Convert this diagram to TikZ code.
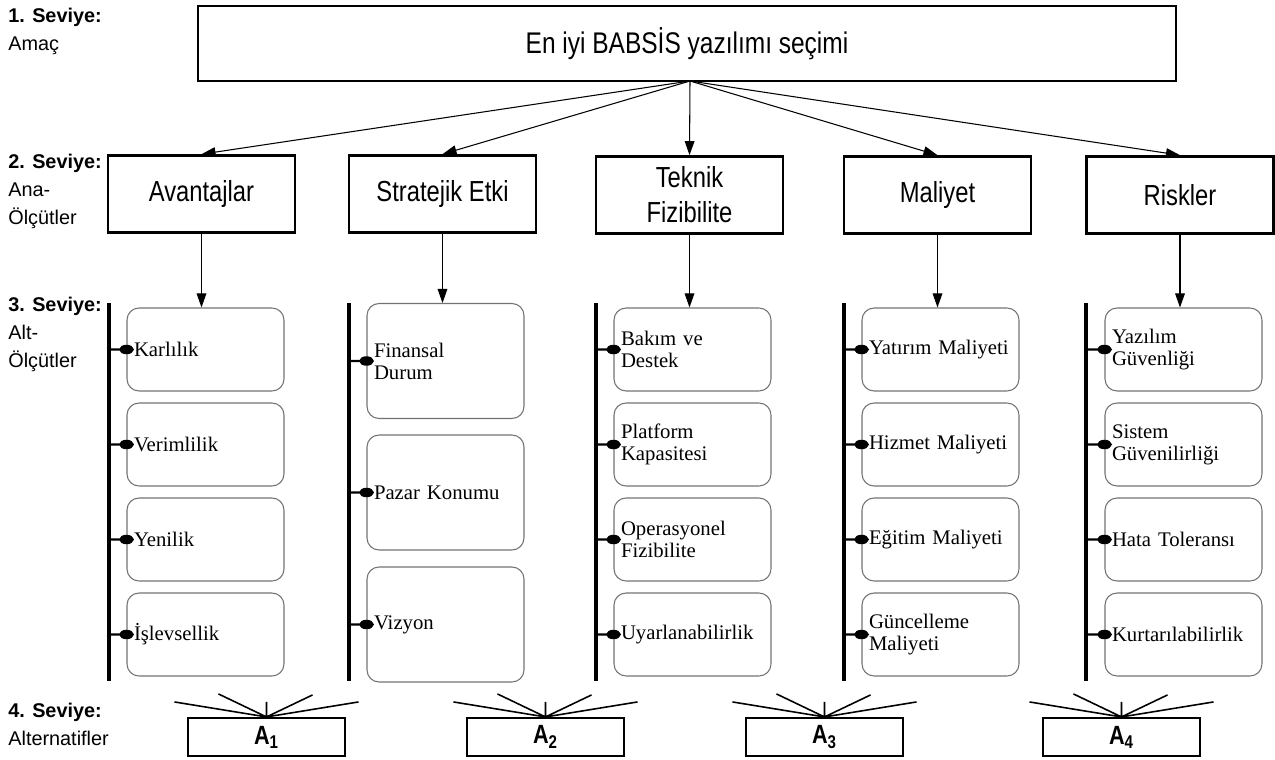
\documentclass[tikz,border=0pt]{standalone}
\usepackage{fontspec}
\setmainfont{Liberation Sans}
\newfontfamily\narrowsans[FakeStretch=0.82]{Liberation Sans}
\newfontfamily\seriffont{Liberation Serif}
\usetikzlibrary{arrows.meta}

\tikzset{
  goalbox/.style={draw, line width=1.1pt, minimum width=19.56cm, minimum height=1.5cm,
    font=\narrowsans\fontsize{17}{20}\selectfont},
  mainbox/.style={draw, line width=1.5pt, minimum width=3.74cm, minimum height=1.54cm,
    inner sep=2pt, align=center, font=\narrowsans\fontsize{16.5}{20}\selectfont},
  subbox/.style={draw=black!55, line width=0.6pt, rounded corners=0.24cm, text width=2.86cm,
    inner xsep=0.14cm, minimum height=1.66cm, align=left,
    font=\seriffont\fontsize{11.8}{12.6}\selectfont},
  tallbox/.style={subbox, minimum height=2.3cm},
  altbox/.style={draw, line width=1.2pt, minimum width=3.14cm, minimum height=0.76cm,
    inner sep=0pt, font=\narrowsans\bfseries\fontsize{15}{16}\selectfont},
  lvl/.style={anchor=north west, align=left, inner sep=0pt, font=\fontsize{11.3}{15.9}\selectfont},
  pfeil/.style={line width=0.6pt, -{Triangle[length=8pt,width=5.5pt]}},
  bar/.style={line width=2.3pt},
  stub/.style={line width=1.4pt},
  fan/.style={line width=0.9pt}
}

\begin{document}
\begin{tikzpicture}[x=0.02cm,y=-0.02cm]
\useasboundingbox (0,0) rectangle (1275,760);

\node[lvl] (l1) at (8,8) {\textbf{1. Seviye:}\\Amaç};
\node[lvl] (l2) at (8,154) {\textbf{2. Seviye:}\\Ana-\\Ölçütler};
\node[lvl] (l3) at (8,297) {\textbf{3. Seviye:}\\Alt-\\Ölçütler};
\node[lvl] (l4) at (8,703) {\textbf{4. Seviye:}\\Alternatifler};

\node[goalbox] (goal) at (687,43.5) {En iyi BABSİS yazılımı seçimi};
\coordinate (g) at (690,81);

\node[mainbox] (k1) at (201.5,194) {Avantajlar};
\node[mainbox] (k2) at (442.5,194) {Stratejik Etki};
\node[mainbox] (k3) at (689.5,195) {Teknik\\Fizibilite};
\node[mainbox] (k4) at (937.5,195) {Maliyet};
\node[mainbox] (k5) at (1180,195) {Riskler};

\draw[pfeil] (g) -- (k1.north);
\draw[pfeil] (g) -- (k2.north);
\draw[pfeil] (g) -- (k3.north);
\draw[pfeil] (g) -- (k4.north);
\draw[pfeil] (g) -- (k5.north);

\node[subbox] (s11) at (205.5,349.5) {Karlılık};
\node[subbox] (s12) at (205.5,444.5) {Verimlilik};
\node[subbox] (s13) at (205.5,539.5) {Yenilik};
\node[subbox] (s14) at (205.5,634.5) {İşlevsellik};

\node[tallbox] (s21) at (445.5,361) {Finansal\\Durum};
\node[tallbox] (s22) at (445.5,492.5) {Pazar Konumu};
\node[tallbox] (s23) at (445.5,624.5) {Vizyon};

\node[subbox] (s31) at (692.5,349.5) {Bakım ve\\Destek};
\node[subbox] (s32) at (692.5,444.5) {Platform\\Kapasitesi};
\node[subbox] (s33) at (692.5,539.5) {Operasyonel\\Fizibilite};
\node[subbox] (s34) at (692.5,634.5) {Uyarlanabilirlik};

\node[subbox] (s41) at (940.5,349.5) {Yatırım Maliyeti};
\node[subbox] (s42) at (940.5,444.5) {Hizmet Maliyeti};
\node[subbox] (s43) at (940.5,539.5) {Eğitim Maliyeti};
\node[subbox] (s44) at (940.5,634.5) {Güncelleme\\Maliyeti};

\node[subbox] (s51) at (1183.5,349.5) {Yazılım\\Güvenliği};
\node[subbox] (s52) at (1183.5,444.5) {Sistem\\Güvenilirliği};
\node[subbox] (s53) at (1183.5,539.5) {Hata Toleransı};
\node[subbox] (s54) at (1183.5,634.5) {Kurtarılabilirlik};

\draw[pfeil] (k1.south) -- (k1.south |- s11.north);
\draw[pfeil] (k2.south) -- (k2.south |- s21.north);
\draw[pfeil] (k3.south) -- (k3.south |- s31.north);
\draw[pfeil] (k4.south) -- (k4.south |- s41.north);
\draw[pfeil] (k5.south) -- (k5.south |- s51.north);

\coordinate (b1) at (109,303);
\coordinate (b2) at (349,303);
\coordinate (b3) at (596,303);
\coordinate (b4) at (844,303);
\coordinate (b5) at (1086,303);
\draw[bar] (b1) -- (109,681);
\draw[bar] (b2) -- (349,681);
\draw[bar] (b3) -- (596,681);
\draw[bar] (b4) -- (844,681);
\draw[bar] (b5) -- (1086,681);

\filldraw[stub] (s11.west -| b1) -- (s11.west) ellipse [x radius=0.12cm, y radius=0.07cm];
\filldraw[stub] (s12.west -| b1) -- (s12.west) ellipse [x radius=0.12cm, y radius=0.07cm];
\filldraw[stub] (s13.west -| b1) -- (s13.west) ellipse [x radius=0.12cm, y radius=0.07cm];
\filldraw[stub] (s14.west -| b1) -- (s14.west) ellipse [x radius=0.12cm, y radius=0.07cm];
\filldraw[stub] (s21.west -| b2) -- (s21.west) ellipse [x radius=0.12cm, y radius=0.07cm];
\filldraw[stub] (s22.west -| b2) -- (s22.west) ellipse [x radius=0.12cm, y radius=0.07cm];
\filldraw[stub] (s23.west -| b2) -- (s23.west) ellipse [x radius=0.12cm, y radius=0.07cm];
\filldraw[stub] (s31.west -| b3) -- (s31.west) ellipse [x radius=0.12cm, y radius=0.07cm];
\filldraw[stub] (s32.west -| b3) -- (s32.west) ellipse [x radius=0.12cm, y radius=0.07cm];
\filldraw[stub] (s33.west -| b3) -- (s33.west) ellipse [x radius=0.12cm, y radius=0.07cm];
\filldraw[stub] (s34.west -| b3) -- (s34.west) ellipse [x radius=0.12cm, y radius=0.07cm];
\filldraw[stub] (s41.west -| b4) -- (s41.west) ellipse [x radius=0.12cm, y radius=0.07cm];
\filldraw[stub] (s42.west -| b4) -- (s42.west) ellipse [x radius=0.12cm, y radius=0.07cm];
\filldraw[stub] (s43.west -| b4) -- (s43.west) ellipse [x radius=0.12cm, y radius=0.07cm];
\filldraw[stub] (s44.west -| b4) -- (s44.west) ellipse [x radius=0.12cm, y radius=0.07cm];
\filldraw[stub] (s51.west -| b5) -- (s51.west) ellipse [x radius=0.12cm, y radius=0.07cm];
\filldraw[stub] (s52.west -| b5) -- (s52.west) ellipse [x radius=0.12cm, y radius=0.07cm];
\filldraw[stub] (s53.west -| b5) -- (s53.west) ellipse [x radius=0.12cm, y radius=0.07cm];
\filldraw[stub] (s54.west -| b5) -- (s54.west) ellipse [x radius=0.12cm, y radius=0.07cm];

\node[altbox] (a1) at (266.5,737) {A\textsubscript{1}};
\node[altbox] (a2) at (545.5,737) {A\textsubscript{2}};
\node[altbox] (a3) at (824.5,737) {A\textsubscript{3}};
\node[altbox] (a4) at (1121.5,737) {A\textsubscript{4}};

\draw[fan] (a1.north) -- ++(-92,-15) (a1.north) -- ++(-48,-23) (a1.north) -- ++(0,-15)
  (a1.north) -- ++(46,-22) (a1.north) -- ++(92,-15);
\draw[fan] (a2.north) -- ++(-92,-15) (a2.north) -- ++(-48,-23) (a2.north) -- ++(0,-15)
  (a2.north) -- ++(46,-22) (a2.north) -- ++(92,-15);
\draw[fan] (a3.north) -- ++(-92,-15) (a3.north) -- ++(-48,-23) (a3.north) -- ++(0,-15)
  (a3.north) -- ++(46,-22) (a3.north) -- ++(92,-15);
\draw[fan] (a4.north) -- ++(-92,-15) (a4.north) -- ++(-48,-23) (a4.north) -- ++(0,-15)
  (a4.north) -- ++(46,-22) (a4.north) -- ++(92,-15);
\end{tikzpicture}
\end{document}
